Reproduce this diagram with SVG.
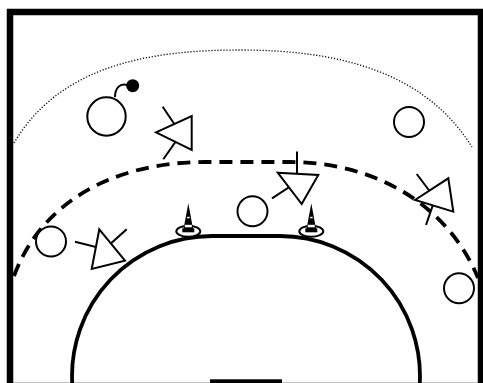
<svg xmlns="http://www.w3.org/2000/svg" width="483" height="383" viewBox="0 0 483 383">
<style>
.line{fill:none;stroke:#000}
.att{fill:#fff;stroke:#000;stroke-width:2}
.def{fill:#fff;stroke:#000;stroke-width:2;stroke-linejoin:miter}
.arm{fill:none;stroke:#000;stroke-width:2}
</style>
<defs>
<g id="cone">
<ellipse cx="0" cy="0" rx="12" ry="5.5" fill="#fff" stroke="#000" stroke-width="2"/>
<polygon points="0,-28 -5,-1 5,-1" fill="#000"/>
<rect x="-6" y="-3" width="12" height="4" fill="#000"/>
<rect x="-3.5" y="-6.5" width="7" height="2.5" fill="#fff"/>
<rect x="-1.2" y="-14.5" width="2.6" height="1.5" fill="#fff"/>
</g>
</defs>
<rect x="0" y="0" width="483" height="383" fill="#fff"/>
<g id="court">
<rect x="10" y="12" width="471" height="374" fill="none" stroke="#000" stroke-width="6.5"/>
<rect x="210" y="379.3" width="72" height="6" fill="#000"/>
<path class="line" stroke-width="3.8" d="M72.2,383 A140,140 0 0 1 212,236 L280,236 A140,140 0 0 1 419.8,383"/>
</g>
<g id="connectors">
<path class="line" stroke-width="1.3" stroke-dasharray="1.2 1.8" d="M14,143 C60,65 150,50 240,50 C340,50 425,72 472,147"/>
<path class="line" stroke-width="3.8" stroke-dasharray="13 8" d="M14,276 C40,205 110,162 205,162 L290,162 C375,162 448,205 478,278"/>
<path class="line" stroke-width="2" d="M115,97 C115,88 120,83 127,85"/>
</g>
<g id="ball"><circle cx="132.7" cy="85.7" r="6.5" fill="#000"/></g>
<g id="attacker1"><circle class="att" cx="106.5" cy="116.5" r="19.2"/></g>
<g id="attacker2"><circle class="att" cx="409" cy="122" r="15"/></g>
<g id="attacker3"><circle class="att" cx="252.5" cy="211.3" r="15"/></g>
<g id="attacker4"><circle class="att" cx="51" cy="241.5" r="15"/></g>
<g id="attacker5"><circle class="att" cx="459" cy="288.3" r="15"/></g>
<g id="defender1">
<polyline class="arm" points="162.7,106.7 181,134 163.3,159.3"/>
<polygon class="def" points="156,132.3 191.7,116 191.7,150"/>
</g>
<g id="defender2">
<polyline class="arm" points="297,151.5 297,182 272,198.3"/>
<polygon class="def" points="277.7,172.7 318.3,175 301.7,204"/>
</g>
<g id="defender3">
<polyline class="arm" points="416.7,174 435.2,198.4 426,225"/>
<polygon class="def" points="415,200 448.3,178.3 453.3,211.7"/>
</g>
<g id="defender4">
<polyline class="arm" points="75,241.7 104.6,249.1 126.7,229.3"/>
<polygon class="def" points="99.3,229.3 125,260.7 91.7,269"/>
</g>
<g id="cone1"><use href="#cone" transform="translate(188.3,231.3)"/></g>
<g id="cone2"><use href="#cone" transform="translate(311.3,231.3)"/></g>
</svg>
